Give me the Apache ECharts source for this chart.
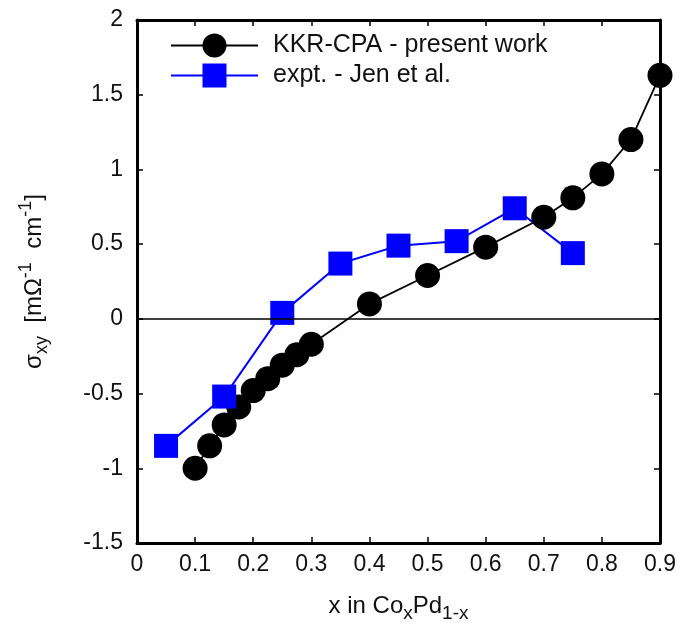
<!DOCTYPE html>
<html><head><meta charset="utf-8">
<script src="https://cdn.jsdelivr.net/npm/echarts@6/dist/echarts.min.js"></script>
<style>html,body{margin:0;padding:0;background:#fff}#c{width:683px;height:623px}</style>
</head><body><div id="c"></div>
<script>
const kkrX = [0.1, 0.125, 0.15, 0.175, 0.2, 0.225, 0.25, 0.275, 0.3, 0.4, 0.5, 0.6, 0.7, 0.75, 0.8, 0.85, 0.9];
const kkrY = [-1.0, -0.85, -0.71, -0.59, -0.48, -0.40, -0.31, -0.24, -0.17, 0.10, 0.29, 0.48, 0.68, 0.81, 0.97, 1.20, 1.63];
const expX = [0.05, 0.15, 0.25, 0.35, 0.45, 0.55, 0.65, 0.75];
const expY = [-0.85, -0.52, 0.04, 0.37, 0.49, 0.52, 0.74, 0.44];
const seriesNames = ['KKR-CPA - present work', 'expt. - Jen et al.'];

const FONT = 'Liberation Sans';
const chart = echarts.init(document.getElementById('c'), null, {renderer: 'canvas'});
const axisCommon = {
  axisLine: {show: true, onZero: false, lineStyle: {color: '#000', width: 3}},
  axisTick: {show: true, inside: true, length: 6, lineStyle: {color: '#000', width: 1.5}},
  splitLine: {show: false}
};
chart.setOption({
  animation: false,
  grid: {left: 137, right: 23, top: 20, bottom: 80, outerBoundsMode: 'none', containLabel: false},
  legend: {
    orient: 'vertical', left: 165, top: 28, itemWidth: 87, itemHeight: 30, itemGap: 5,
    textStyle: {fontFamily: FONT, fontSize: 25, color: '#111', padding: [0, 0, 0, 10]},
    data: seriesNames
  },
  xAxis: [
    Object.assign({}, axisCommon, {
      type: 'value', min: 0, max: 0.9, interval: 0.1, position: 'bottom',
      axisLabel: {fontFamily: FONT, fontSize: 23, color: '#111', margin: 10},
      name: 'x in Co{sub|x}Pd{sub|1-x}', nameLocation: 'middle', nameGap: 46,
      nameTextStyle: {fontFamily: FONT, fontSize: 24, color: '#111',
        rich: {sub: {fontFamily: FONT, fontSize: 19, color: '#111', verticalAlign: 'bottom', lineHeight: 34}}}
    }),
    Object.assign({}, axisCommon, {
      type: 'value', min: 0, max: 0.9, interval: 0.1, position: 'top', axisLabel: {show: false}
    })
  ],
  yAxis: [
    Object.assign({}, axisCommon, {
      type: 'value', min: -1.5, max: 2, interval: 0.5, position: 'left',
      axisLabel: {fontFamily: FONT, fontSize: 23, color: '#111', margin: 14},
      name: 'σ{sub|xy}  [mΩ{sup|-1}  cm{sup|-1}]', nameLocation: 'middle', nameGap: 86, nameRotate: 90,
      nameTextStyle: {fontFamily: FONT, fontSize: 24, color: '#111',
        rich: {
          sub: {fontFamily: FONT, fontSize: 18, color: '#111', verticalAlign: 'bottom', lineHeight: 34},
          sup: {fontFamily: FONT, fontSize: 18, color: '#111', verticalAlign: 'top', lineHeight: 34}
        }}
    }),
    Object.assign({}, axisCommon, {
      type: 'value', min: -1.5, max: 2, interval: 0.5, position: 'right', axisLabel: {show: false}
    })
  ],
  series: [
    {
      name: seriesNames[0], type: 'line', xAxisIndex: 0, yAxisIndex: 0,
      data: kkrX.map((x, i) => [x, kkrY[i]]),
      symbol: 'circle', symbolSize: 25,
      lineStyle: {color: '#000', width: 1.8}, itemStyle: {color: '#000'},
      markLine: {silent: true, symbol: 'none', label: {show: false},
        lineStyle: {color: '#000', width: 1.5, type: 'solid'}, data: [{yAxis: 0}]}
    },
    {
      name: seriesNames[1], type: 'line', xAxisIndex: 0, yAxisIndex: 0,
      data: expX.map((x, i) => [x, expY[i]]),
      symbol: 'rect', symbolSize: 24,
      lineStyle: {color: '#0000ff', width: 2}, itemStyle: {color: '#0000ff'}
    }
  ]
});
</script></body></html>
